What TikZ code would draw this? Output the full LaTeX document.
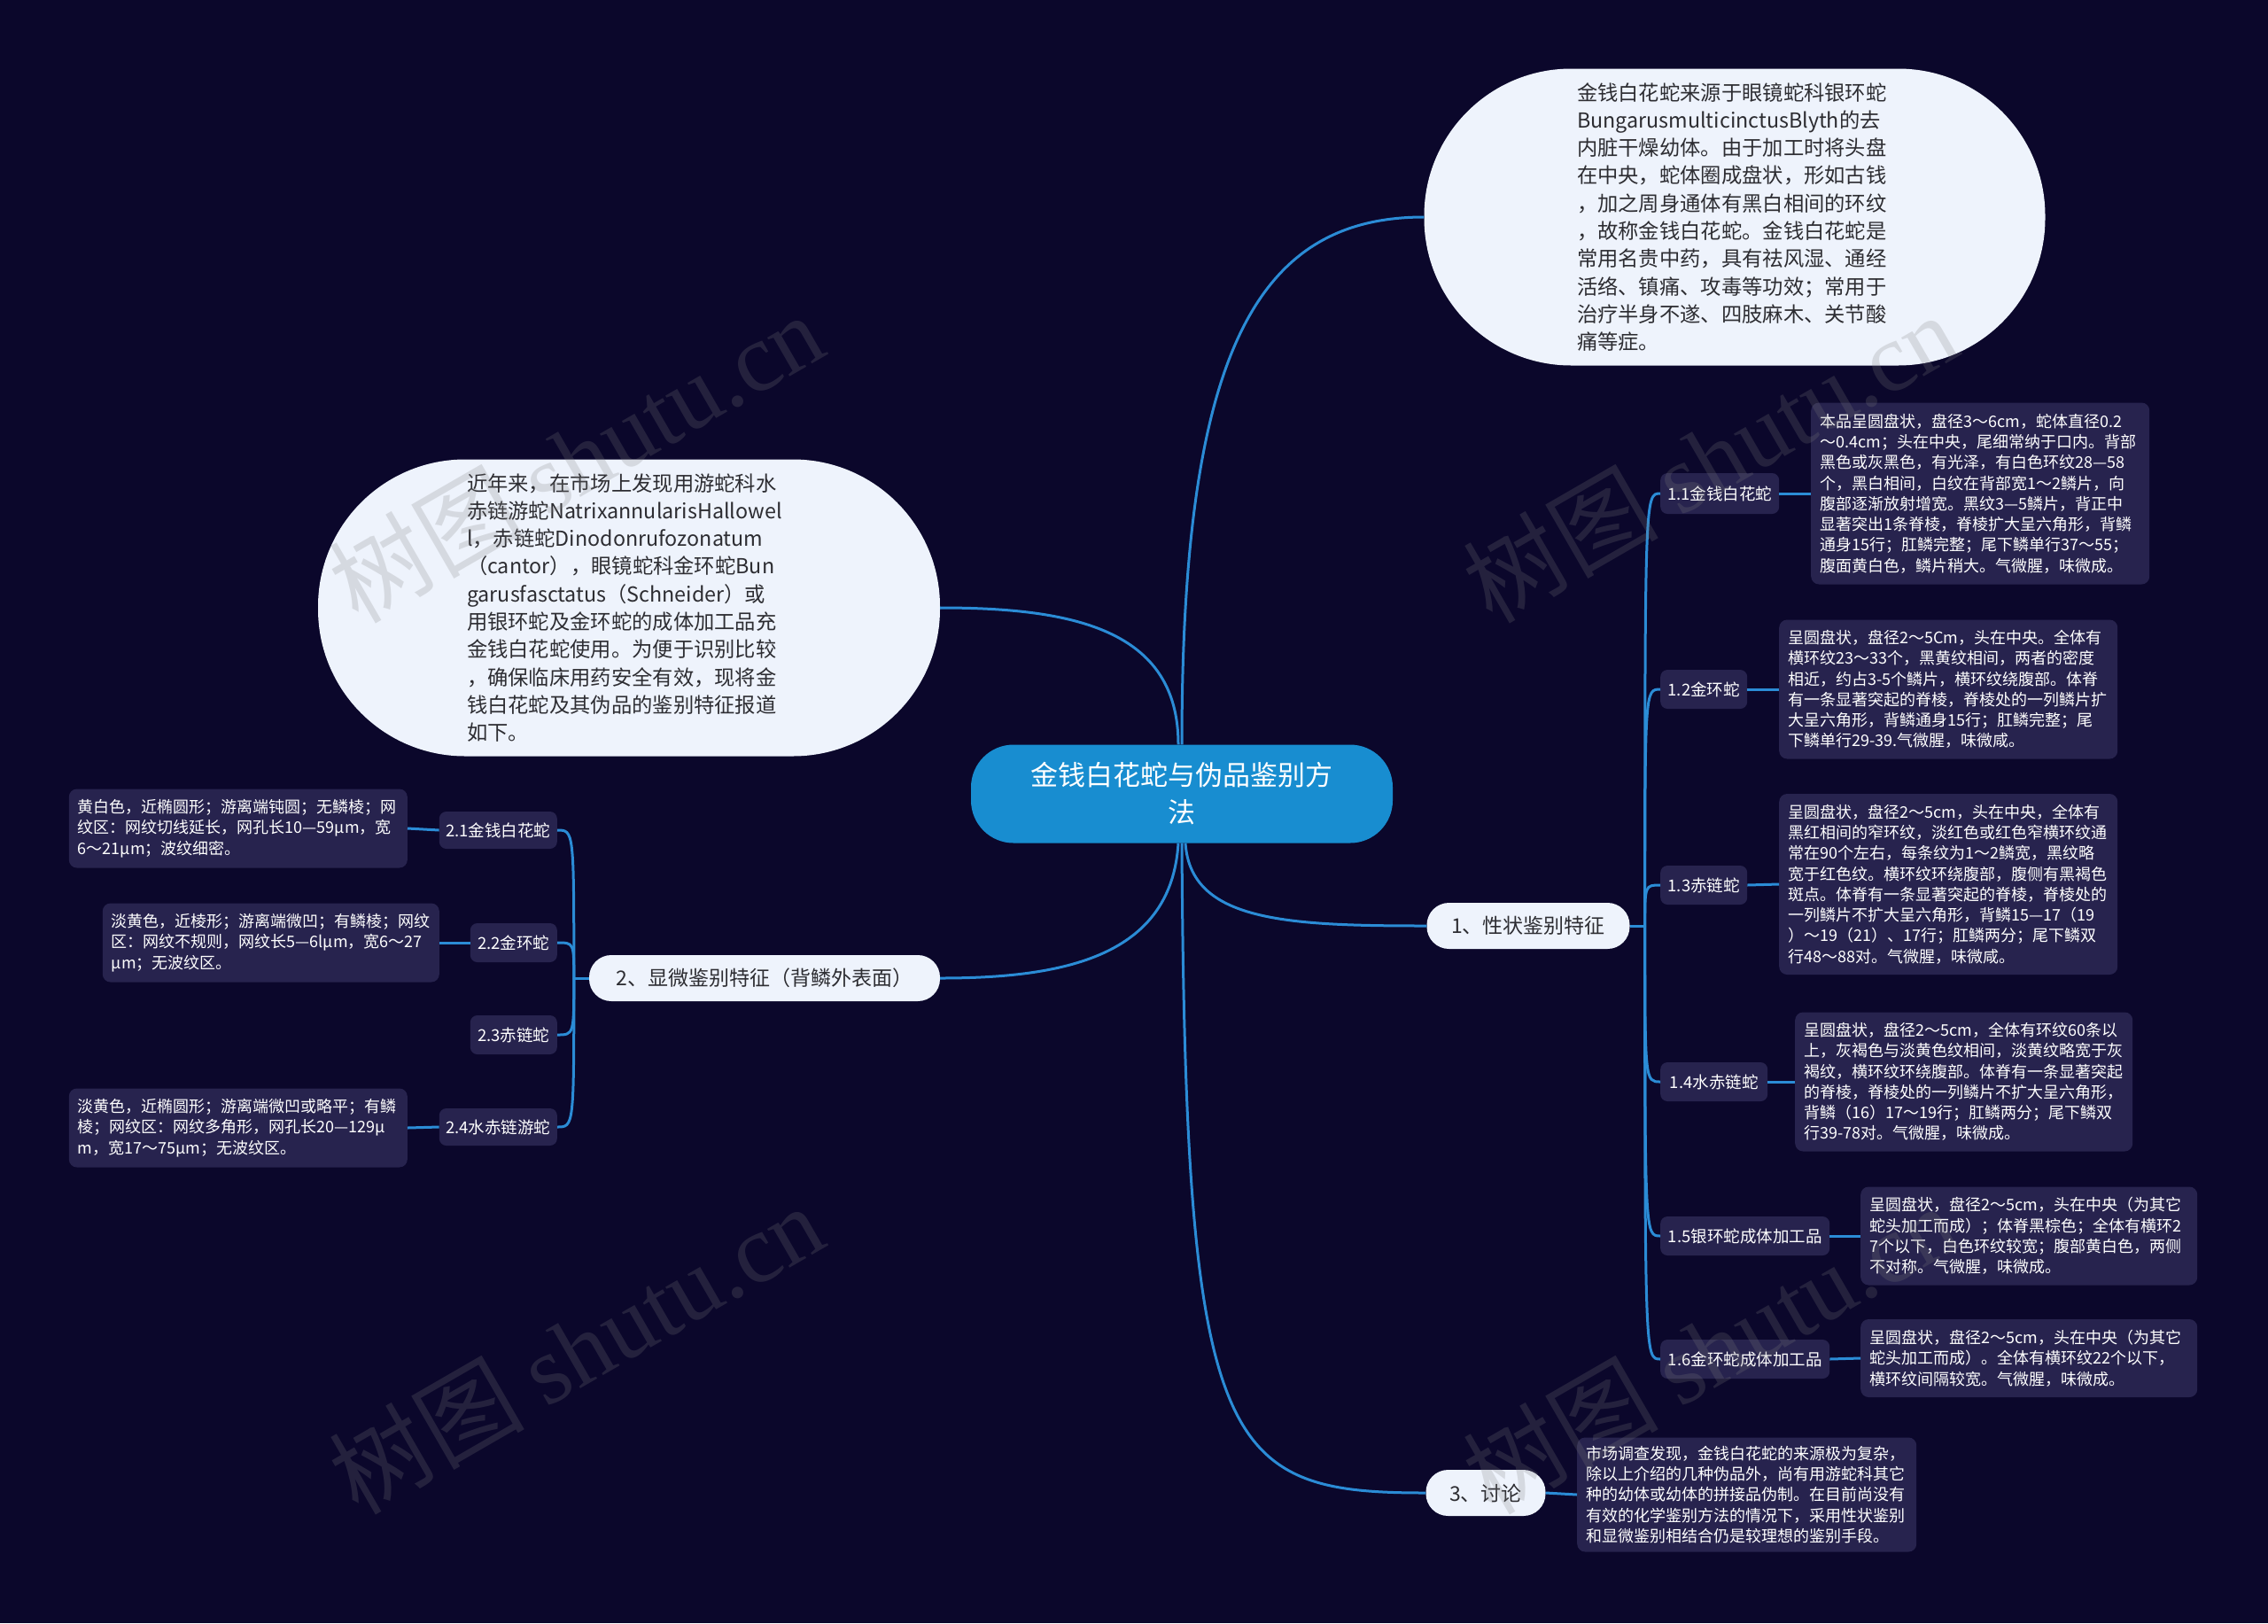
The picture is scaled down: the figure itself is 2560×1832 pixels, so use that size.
\documentclass[tikz,border=0pt]{standalone}
\usepackage{fontspec}
\setmainfont{Noto Sans CJK SC}
\newfontfamily\wmserif{Liberation Serif}
\usetikzlibrary{calc}
\definecolor{bgc}{RGB}{11,7,43}
\definecolor{boxc}{RGB}{39,35,78}
\definecolor{lightc}{RGB}{238,243,252}
\definecolor{rootc}{RGB}{24,141,208}
\definecolor{linkc}{RGB}{43,140,214}
\definecolor{darktext}{RGB}{45,45,50}
\begin{document}
\begin{tikzpicture}[x=1pt,y=-1pt,
  link/.style={draw=linkc, line width=3pt},
  detail/.style={fill=boxc, rounded corners=9pt, text=white, font=\fontsize{18}{23.3}\selectfont, inner xsep=10pt, inner ysep=0pt, align=left, anchor=west},
  sublabel/.style={fill=boxc, rounded corners=8pt, text=white, font=\fontsize{18.5}{22}\selectfont, inner sep=0pt, minimum height=44pt},
  branch/.style={fill=lightc, rounded corners=25pt, text=darktext, font=\fontsize{23}{28}\selectfont, inner sep=0pt, minimum height=52pt},
  ball/.style={fill=lightc, rounded corners=166pt, text=darktext, font=\fontsize{23.3}{31.3}\selectfont, inner sep=0pt, align=left, minimum width=701pt, minimum height=335pt},
  rootnode/.style={fill=rootc, rounded corners=48pt, text=white, font=\fontsize{31}{42}\selectfont, align=center, inner sep=0pt, minimum width=476pt, minimum height=111pt},
  wm/.style={text=gray, opacity=0.22, rotate=30, font=\fontsize{110}{110}\selectfont}
]
\useasboundingbox (0,0) rectangle (2560,1832);
\fill[bgc] (0,0) rectangle (2560,1832);

% root and main branches
\node[rootnode, text width=440pt] (root) at (1334,896) {金钱白花蛇与伪品鉴别方\\法};
\node[ball, text width=356pt] (intro) at (1958,245) {金钱白花蛇来源于眼镜蛇科银环蛇\\BungarusmulticinctusBlyth的去\\内脏干燥幼体。由于加工时将头盘\\在中央，蛇体圈成盘状，形如古钱\\，加之周身通体有黑白相间的环纹\\，故称金钱白花蛇。金钱白花蛇是\\常用名贵中药，具有祛风湿、通经\\活络、镇痛、攻毒等功效；常用于\\治疗半身不遂、四肢麻木、关节酸\\痛等症。};
\node[ball, text width=366pt, minimum width=702pt] (lball) at (710,686) {近年来，在市场上发现用游蛇科水\\赤链游蛇NatrixannularisHallowel\\l，赤链蛇Dinodonrufozonatum\\（cantor），眼镜蛇科金环蛇Bun\\garusfasctatus（Schneider）或\\用银环蛇及金环蛇的成体加工品充\\金钱白花蛇使用。为便于识别比较\\，确保临床用药安全有效，现将金\\钱白花蛇及其伪品的鉴别特征报道\\如下。};
\node[branch, minimum width=229pt] (b1) at (1725,1045) {1、性状鉴别特征};
\node[branch, minimum width=396pt] (b2) at (863,1104) {2、显微鉴别特征（背鳞外表面）};
\node[branch, minimum width=135pt] (b3) at (1677,1685) {3、讨论};

% branch 1 children
\node[sublabel, anchor=west, minimum width=134pt, minimum height=46pt] (s11) at (1874,557) {1.1金钱白花蛇};
\node[sublabel, anchor=west, minimum width=98pt] (s12) at (1874,778) {1.2金环蛇};
\node[sublabel, anchor=west, minimum width=98pt] (s13) at (1874,999) {1.3赤链蛇};
\node[sublabel, anchor=west, minimum width=121pt] (s14) at (1874,1221) {1.4水赤链蛇};
\node[sublabel, anchor=west, minimum width=191pt] (s15) at (1874,1395) {1.5银环蛇成体加工品};
\node[sublabel, anchor=west, minimum width=191pt] (s16) at (1874,1534) {1.6金环蛇成体加工品};

\node[detail, text width=362pt, minimum height=205pt] (d11) at (2044,557) {本品呈圆盘状，盘径3～6cm，蛇体直径0.2\\～0.4cm；头在中央，尾细常纳于口内。背部\\黑色或灰黑色，有光泽，有白色环纹28—58\\个，黑白相间，白纹在背部宽1～2鳞片，向\\腹部逐渐放射增宽。黑纹3—5鳞片，背正中\\显著突出1条脊棱，脊棱扩大呈六角形，背鳞\\通身15行；肛鳞完整；尾下鳞单行37～55；\\腹面黄白色，鳞片稍大。气微腥，味微成。};
\node[detail, text width=362pt, minimum height=157pt] (d12) at (2008,778) {呈圆盘状，盘径2～5Cm，头在中央。全体有\\横环纹23～33个，黑黄纹相间，两者的密度\\相近，约占3-5个鳞片，横环纹绕腹部。体脊\\有一条显著突起的脊棱，脊棱处的一列鳞片扩\\大呈六角形，背鳞通身15行；肛鳞完整；尾\\下鳞单行29-39.气微腥，味微咸。};
\node[detail, text width=362pt, minimum height=204pt] (d13) at (2008,998) {呈圆盘状，盘径2～5cm，头在中央，全体有\\黑红相间的窄环纹，淡红色或红色窄横环纹通\\常在90个左右，每条纹为1～2鳞宽，黑纹略\\宽于红色纹。横环纹环绕腹部，腹侧有黑褐色\\斑点。体脊有一条显著突起的脊棱，脊棱处的\\一列鳞片不扩大呈六角形，背鳞15—17（19\\）～19（21）、17行；肛鳞两分；尾下鳞双\\行48～88对。气微腥，味微咸。};
\node[detail, text width=361pt, minimum height=157pt] (d14) at (2026,1221) {呈圆盘状，盘径2～5cm，全体有环纹60条以\\上，灰褐色与淡黄色纹相间，淡黄纹略宽于灰\\褐纹，横环纹环绕腹部。体脊有一条显著突起\\的脊棱，脊棱处的一列鳞片不扩大呈六角形，\\背鳞（16）17～19行；肛鳞两分；尾下鳞双\\行39-78对。气微腥，味微成。};
\node[detail, text width=360pt, minimum height=111pt] (d15) at (2100,1395) {呈圆盘状，盘径2～5cm，头在中央（为其它\\蛇头加工而成）；体脊黑棕色；全体有横环2\\7个以下，白色环纹较宽；腹部黄白色，两侧\\不对称。气微腥，味微成。};
\node[detail, text width=360pt, minimum height=88pt] (d16) at (2100,1533) {呈圆盘状，盘径2～5cm，头在中央（为其它\\蛇头加工而成）。全体有横环纹22个以下，\\横环纹间隔较宽。气微腥，味微成。};

% branch 3 detail
\node[detail, text width=363pt, minimum height=129pt] (d3) at (1780,1687) {市场调查发现，金钱白花蛇的来源极为复杂，\\除以上介绍的几种伪品外，尚有用游蛇科其它\\种的幼体或幼体的拼接品伪制。在目前尚没有\\有效的化学鉴别方法的情况下，采用性状鉴别\\和显微鉴别相结合仍是较理想的鉴别手段。};

% branch 2 children
\node[sublabel, anchor=east, minimum width=133pt, minimum height=42pt] (s21) at (629,937) {2.1金钱白花蛇};
\node[sublabel, anchor=east, minimum width=98pt] (s22) at (629,1064) {2.2金环蛇};
\node[sublabel, anchor=east, minimum width=98pt] (s23) at (629,1168) {2.3赤链蛇};
\node[sublabel, anchor=east, minimum width=133pt, minimum height=42pt] (s24) at (629,1272) {2.4水赤链游蛇};

\node[detail, anchor=east, text width=362pt, minimum height=89pt] (d21) at (460,935) {黄白色，近椭圆形；游离端钝圆；无鳞棱；网\\纹区：网纹切线延长，网孔长10—59μm，宽\\6～21μm；波纹细密。};
\node[detail, anchor=east, text width=360pt, minimum height=89pt] (d22) at (496,1064) {淡黄色，近棱形；游离端微凹；有鳞棱；网纹\\区：网纹不规则，网纹长5—6lμm，宽6～27\\μm；无波纹区。};
\node[detail, anchor=east, text width=362pt, minimum height=89pt] (d24) at (460,1273) {淡黄色，近椭圆形；游离端微凹或略平；有鳞\\棱；网纹区：网纹多角形，网孔长20—129μ\\m，宽17～75μm；无波纹区。};

% main connectors
\draw[link] (root.north) .. controls ($(root.north)+(0,-441)$) and ($(intro.west)+(-190,0)$) .. (intro.west);
\draw[link] ($(root.north)+(-4,0)$) .. controls ($(root.north)+(-4,-130)$) and ($(lball.east)+(150,0)$) .. (lball.east);
\draw[link] ($(root.south)+(4,0)$) .. controls ($(root.south)+(10,88)$) and ($(b1.west)+(-160,0)$) .. (b1.west);
\draw[link] ($(root.south)+(-4,0)$) .. controls ($(root.south)+(-12,128)$) and ($(b2.east)+(140,0)$) .. (b2.east);
\draw[link] (root.south) .. controls ($(root.south)+(4,688)$) and ($(b3.west)+(-230,0)$) .. (b3.west);

% branch 1 fan
\draw[link] (b1.east) -- ++(17,0) coordinate (j1);
\foreach \c in {s11,s12,s13,s14,s15,s16}{
  \draw[link] (j1) .. controls (j1 |- \c.west) and (j1 |- \c.west) .. (\c.west);
}
\draw[link] (s11.east) -- (d11.west);
\draw[link] (s12.east) -- (d12.west);
\draw[link] (s13.east) -- (d13.west);
\draw[link] (s14.east) -- (d14.west);
\draw[link] (s15.east) -- (d15.west);
\draw[link] (s16.east) -- (d16.west);

% branch 2 fan
\draw[link] (b2.west) -- ++(-17,0) coordinate (j2);
\foreach \c in {s21,s22,s23,s24}{
  \draw[link] (j2) .. controls (j2 |- \c.east) and (j2 |- \c.east) .. (\c.east);
}
\draw[link] (s21.west) -- (d21.east);
\draw[link] (s22.west) -- (d22.east);
\draw[link] (s24.west) -- (d24.east);

% branch 3
\draw[link] (b3.east) -- (d3.west);

% watermarks
\node[wm] (w1) at (650,516) {树图\ {\wmserif shutu.cn}};
\node[wm] (w2) at (1930,516) {树图\ {\wmserif shutu.cn}};
\node[wm] (w3) at (650,1522) {树图\ {\wmserif shutu.cn}};
\node[wm] (w4) at (1930,1522) {树图\ {\wmserif shutu.cn}};
\end{tikzpicture}
\end{document}
